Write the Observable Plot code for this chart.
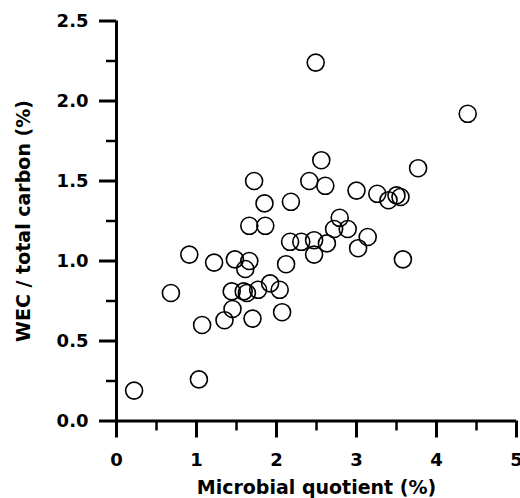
<!DOCTYPE html>
<html>
<head>
<meta charset="utf-8">
<script src="https://cdn.jsdelivr.net/npm/d3@7"></script>
<script src="https://cdn.jsdelivr.net/npm/@observablehq/plot@0.6"></script>
<style>
  html, body { margin: 0; padding: 0; background: #fff; }
  #chart svg { display: block; }
</style>
</head>
<body>
<div id="chart"></div>
<script>
// Data
const microbialQuotient = [
  0.22, 1.03, 0.68, 1.07, 0.91, 1.22, 1.48, 1.66, 1.61, 1.44,
  1.59, 1.63, 1.45, 1.35, 1.70, 1.77, 1.92, 2.04, 2.07, 2.12,
  1.72, 1.85, 1.66, 1.86, 2.18, 2.17, 2.31, 2.47, 2.63, 2.47,
  2.41, 2.61, 2.56, 2.49, 2.79, 2.72, 2.89, 3.00, 3.26, 3.40,
  3.50, 3.55, 3.14, 3.02, 3.58, 3.77, 4.39
];
const wecTotalCarbon = [
  0.19, 0.26, 0.80, 0.60, 1.04, 0.99, 1.01, 1.00, 0.95, 0.81,
  0.81, 0.80, 0.70, 0.63, 0.64, 0.82, 0.86, 0.82, 0.68, 0.98,
  1.50, 1.36, 1.22, 1.22, 1.37, 1.12, 1.12, 1.13, 1.11, 1.04,
  1.50, 1.47, 1.63, 2.24, 1.27, 1.20, 1.20, 1.44, 1.42, 1.38,
  1.41, 1.40, 1.15, 1.08, 1.01, 1.58, 1.92
];
const xTicks = [0, 1, 2, 3, 4, 5];
const xMinorTicks = [0.5, 1.5, 2.5, 3.5, 4.5];
const yTicks = [0, 0.5, 1.0, 1.5, 2.0, 2.5];
const yMinorTicks = [0.25, 0.75, 1.25, 1.75, 2.25];
const xTitle = "Microbial quotient (%)";
const yTitle = "WEC / total carbon (%)";

const points = microbialQuotient.map((x, i) => ({x, y: wecTotalCarbon[i]}));
const font = "DejaVu Sans";
const fmtX = d3.format("d");
const fmtY = d3.format(".1f");

const chart = Plot.plot({
  width: 520,
  height: 498,
  marginLeft: 116,
  marginRight: 4,
  marginTop: 20.5,
  marginBottom: 77.5,
  style: {fontFamily: font, background: "#fff", color: "#000", overflow: "visible"},
  x: {domain: [0, 5], axis: null},
  y: {domain: [0, 2.5], axis: null},
  marks: [
    // major ticks (outward)
    Plot.ruleX(xTicks, {x: d => d, y1: 0, y2: 0, insetBottom: -17, stroke: "#000", strokeWidth: 3}),
    Plot.ruleY(yTicks, {y: d => d, x1: 0, x2: 0, insetLeft: -17, stroke: "#000", strokeWidth: 3}),
    // minor ticks (outward)
    Plot.ruleX(xMinorTicks, {x: d => d, y1: 0, y2: 0, insetBottom: -10, stroke: "#000", strokeWidth: 2.5}),
    Plot.ruleY(yMinorTicks, {y: d => d, x1: 0, x2: 0, insetLeft: -10, stroke: "#000", strokeWidth: 2.5}),
    // axis lines
    Plot.ruleY([0], {strokeWidth: 3, stroke: "#000"}),
    Plot.ruleX([0], {strokeWidth: 3, stroke: "#000"}),
    // tick labels
    Plot.text(xTicks, {
      x: d => d, frameAnchor: "bottom", dy: 39, text: d => fmtX(d), lineAnchor: "middle",
      fontSize: 18, fontWeight: "bold", fontFamily: font, fill: "#000"
    }),
    Plot.text(yTicks, {
      y: d => d, frameAnchor: "left", dx: -28, text: d => fmtY(d), textAnchor: "end", lineAnchor: "middle",
      fontSize: 18, fontWeight: "bold", fontFamily: font, fill: "#000"
    }),
    // data
    Plot.dot(points, {x: "x", y: "y", r: 8.5, stroke: "#000", strokeWidth: 1.6, fill: "none"}),
    // axis titles
    Plot.text([xTitle], {
      frameAnchor: "bottom", dy: 66.5, text: d => d, fontSize: 19, fontWeight: "bold",
      fontFamily: font, fill: "#000", lineAnchor: "middle", textAnchor: "middle"
    }),
    Plot.text([yTitle], {
      frameAnchor: "left", dx: -93, rotate: -90, text: d => d, fontSize: 19, fontWeight: "bold",
      fontFamily: font, fill: "#000", lineAnchor: "middle", textAnchor: "middle"
    })
  ]
});
document.getElementById("chart").appendChild(chart);
</script>
</body>
</html>
